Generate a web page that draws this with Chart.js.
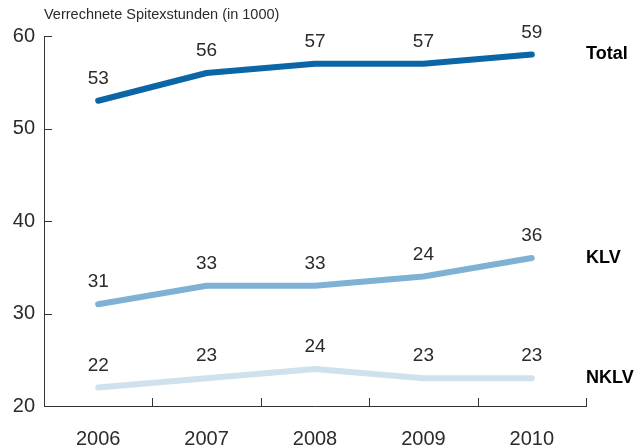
<!DOCTYPE html>
<html>
<head>
<meta charset="utf-8">
<script src="https://cdn.jsdelivr.net/npm/chart.js@4.4.0/dist/chart.umd.min.js"></script>
<style>
  html, body { margin: 0; padding: 0; background: #fff; }
</style>
</head>
<body>
<canvas id="chart" width="640" height="448"></canvas>
<script>
// data
const years = ['2006', '2007', '2008', '2009', '2010'];
const totalValues = [53, 56, 57, 57, 58];
const klvValues = [31, 33, 33, 34, 36];
const nklvValues = [22, 23, 24, 23, 23];
// printed labels (as shown in the original, incl. its quirks)
const totalLabels = ['53', '56', '57', '57', '59'];
const klvLabels = ['31', '33', '33', '24', '36'];
const nklvLabels = ['22', '23', '24', '23', '23'];
const seriesNames = ['Total', 'KLV', 'NKLV'];
const yTicks = [20, 30, 40, 50, 60];
const title = 'Verrechnete Spitexstunden (in 1000)';

const FONT = '"Liberation Sans", Arial, sans-serif';
const TEXT = '#2b2b2b';
const AXIS = '#333333';

// ticks drawn inward, point labels and series names
const decorations = {
    id: 'decorations',
    afterDraw(chart) {
        const ctx = chart.ctx;
        const area = chart.chartArea;
        const x = chart.scales.x;
        const y = chart.scales.y;
        ctx.save();
        ctx.strokeStyle = AXIS;
        ctx.lineWidth = 1;
        ctx.beginPath();
        yTicks.forEach(v => {
            const py = Math.round(y.getPixelForValue(v)) + 0.5;
            ctx.moveTo(area.left, py);
            ctx.lineTo(area.left + 8, py);
        });
        for (let i = 0; i < years.length; i++) {
            const px = Math.round(x.getPixelForValue(i + 0.5)) + 0.5;
            ctx.moveTo(px, area.bottom);
            ctx.lineTo(px, area.bottom - 8);
        }
        ctx.stroke();

        // title
        ctx.fillStyle = TEXT;
        ctx.font = '14.5px ' + FONT;
        ctx.textAlign = 'left';
        ctx.textBaseline = 'middle';
        ctx.fillText(title, area.left, 15);

        // value labels above the points
        const allLabels = [totalLabels, klvLabels, nklvLabels];
        ctx.font = '19px ' + FONT;
        ctx.textAlign = 'center';
        chart.data.datasets.forEach((ds, di) => {
            const meta = chart.getDatasetMeta(di);
            meta.data.forEach((pt, i) => {
                ctx.fillText(allLabels[di][i], pt.x, pt.y - 22);
            });
        });

        // series names at the right
        ctx.font = 'bold 18px ' + FONT;
        ctx.textAlign = 'left';
        ctx.fillStyle = '#000';
        chart.data.datasets.forEach((ds, di) => {
            const meta = chart.getDatasetMeta(di);
            const last = meta.data[meta.data.length - 1];
            ctx.fillText(seriesNames[di], area.right, last.y);
        });
        ctx.restore();
    }
};

new Chart(document.getElementById('chart'), {
    type: 'line',
    data: {
        labels: years,
        datasets: [
            { label: seriesNames[0], data: totalValues, borderColor: '#0b65a6' },
            { label: seriesNames[1], data: klvValues, borderColor: '#7fb1d4' },
            { label: seriesNames[2], data: nklvValues, borderColor: '#cfe1ed' }
        ]
    },
    options: {
        responsive: false,
        animation: false,
        layout: { padding: { top: 36, right: 54, bottom: 0, left: 0 } },
        elements: {
            line: { borderWidth: 6, borderCapStyle: 'round', borderJoinStyle: 'round', tension: 0 },
            point: { radius: 0, hoverRadius: 0 }
        },
        plugins: {
            legend: { display: false },
            tooltip: { enabled: false }
        },
        scales: {
            x: {
                offset: true,
                grid: { display: false, drawTicks: false },
                border: { display: true, color: AXIS, width: 1 },
                ticks: { color: TEXT, font: { family: FONT, size: 20 }, padding: 21, maxRotation: 0 },
                afterFit: s => { s.height = 42; }
            },
            y: {
                min: 20,
                max: 60,
                grid: { display: false, drawTicks: false },
                border: { display: true, color: AXIS, width: 1 },
                ticks: { stepSize: 10, color: TEXT, font: { family: FONT, size: 20 }, padding: 9 },
                afterFit: s => { s.width = 44; }
            }
        }
    },
    plugins: [decorations]
});
</script>
</body>
</html>
